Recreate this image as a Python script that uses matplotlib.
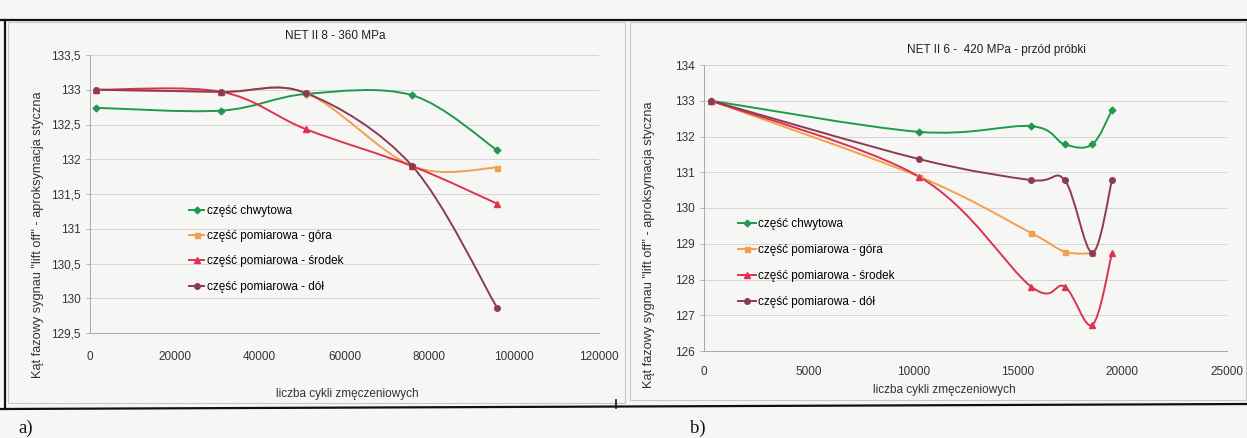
import numpy as np
import matplotlib
matplotlib.use("Agg")
import matplotlib.pyplot as plt
from matplotlib.path import Path
from matplotlib.patches import PathPatch, Rectangle
from matplotlib.lines import Line2D
from matplotlib.ticker import FixedLocator, FuncFormatter

plt.rcParams['font.family'] = ['Liberation Sans', 'DejaVu Sans']

# ---------------- data ----------------
series_labels = ["część chwytowa", "część pomiarowa - góra",
                 "część pomiarowa - środek", "część pomiarowa - dół"]

# chart a) NET II 8 - 360 MPa
x_a = [1500, 31000, 51000, 76000, 96000]
chwyt_a = [132.74, 132.70, 132.94, 132.92, 132.13]
gora_a = [133.00, 132.97, 132.95, 131.90, 131.88]
srodek_a = [133.00, 132.97, 132.43, 131.90, 131.36]
dol_a = [133.00, 132.97, 132.95, 131.90, 129.86]

# chart b) NET II 6 - 420 MPa - przód próbki
x_b = [340, 10270, 15640, 17240, 18560, 19500]
chwyt_b = [133.00, 132.13, 132.29, 131.78, 131.78, 132.74]
gora_b = [133.00, 130.88, 129.30, 128.78, 128.73]
srodek_b = [133.00, 130.88, 127.80, 127.80, 126.73, 128.73]
dol_b = [133.00, 131.37, 130.78, 130.78, 128.75, 130.77]

yticks_a = [129.5, 130, 130.5, 131, 131.5, 132, 132.5, 133, 133.5]
xticks_a = [0, 20000, 40000, 60000, 80000, 100000, 120000]
yticks_b = [126, 127, 128, 129, 130, 131, 132, 133, 134]
xticks_b = [0, 5000, 10000, 15000, 20000, 25000]

title_a = "NET II 8 - 360 MPa"
title_b = "NET II 6 -  420 MPa - przód próbki"
ylabel = 'Kąt fazowy sygnau "lift off" - aproksymacja styczna'
xlabel = "liczba cykli zmęczeniowych"

colors = ['#1f9a4c', '#f2a04e', '#dc3350', '#8c3b55']
markers = ['D', 's', '^', 'o']
msizes = [3.4, 3.6, 4.4, 4.0]

FS = 8.5

# ---------------- figure ----------------
W, H = 1247, 438
fig = plt.figure(figsize=(W / 100, H / 100), dpi=100)
fig.patch.set_facecolor('#f6f6f4')


def px_axes(x0, x1, y_top, y_bot):
    return fig.add_axes([x0 / W, 1 - y_bot / H, (x1 - x0) / W, (y_bot - y_top) / H])


def fx(x):
    return x / W


def fy(y):
    return 1 - y / H


def smooth_line(ax, x, y, color, lw=1.4):
    pts = np.column_stack([x, y]).astype(float)
    n = len(pts)
    verts = [pts[0]]
    codes = [Path.MOVETO]
    for i in range(n - 1):
        p0 = pts[i - 1] if i > 0 else pts[i]
        p1 = pts[i]
        p2 = pts[i + 1]
        p3 = pts[i + 2] if i + 2 < n else pts[i + 1]
        c1 = p1 + (p2 - p0) / 6.0
        c2 = p2 - (p3 - p1) / 6.0
        verts += [c1, c2, p2]
        codes += [Path.CURVE4] * 3
    ax.add_patch(PathPatch(Path(verts, codes), fill=False, edgecolor=color,
                           lw=lw, capstyle='round', joinstyle='round', zorder=3))


def style_axes(ax, xticks, yticks, yfmt):
    ax.set_facecolor('none')
    for s in ['top', 'right']:
        ax.spines[s].set_visible(False)
    for s in ['left', 'bottom']:
        ax.spines[s].set_color('#a8a8a8')
        ax.spines[s].set_linewidth(0.7)
    ax.xaxis.set_major_locator(FixedLocator(xticks))
    ax.yaxis.set_major_locator(FixedLocator(yticks))
    ax.yaxis.set_major_formatter(FuncFormatter(yfmt))
    ax.xaxis.set_major_formatter(FuncFormatter(lambda v, p: f"{int(v)}"))
    ax.tick_params(axis='both', labelsize=FS, colors='#a8a8a8',
                   labelcolor='#333333', length=3, width=0.6)
    ax.tick_params(axis='x', length=0)
    ax.grid(axis='y', color='#cfcfcf', lw=0.6)
    ax.set_axisbelow(True)


def fmt_a(v, p):
    s = f"{v:.1f}"
    if s.endswith(".0"):
        s = s[:-2]
    return s.replace(".", ",")


def fmt_b(v, p):
    return f"{int(round(v))}"


# chart a
ax_a = px_axes(90, 599, 55, 333)
ax_a.set_xlim(0, 120000)
ax_a.set_ylim(129.5, 133.5)
style_axes(ax_a, xticks_a, yticks_a, fmt_a)
ax_a.tick_params(axis='x', pad=13)
for ys, c, m, ms in zip([chwyt_a, gora_a, srodek_a, dol_a], colors, markers, msizes):
    smooth_line(ax_a, x_a, ys, c)
    ax_a.plot(x_a, ys, ls='none', marker=m, ms=ms, color=c, zorder=4)
ax_a.set_ylabel(ylabel, fontsize=9.2, color='#333333')
ax_a.yaxis.set_label_coords((44 - 90) / 509, 0.353)
ax_a.set_xlabel(xlabel, fontsize=FS, color='#333333')
ax_a.xaxis.set_label_coords((347 - 90) / 509, (333 - 388) / 278)

# chart b
ax_b = px_axes(704, 1227, 65, 351)
ax_b.set_xlim(0, 25000)
ax_b.set_ylim(126, 134)
style_axes(ax_b, xticks_b, yticks_b, fmt_b)
ax_b.tick_params(axis='x', pad=11)
for ys, c, m, ms in zip([chwyt_b, gora_b, srodek_b, dol_b], colors, markers, msizes):
    xs = x_b[:len(ys)]
    smooth_line(ax_b, xs, ys, c)
    ax_b.plot(xs, ys, ls='none', marker=m, ms=ms, color=c, zorder=4)
ax_b.set_ylabel(ylabel, fontsize=9.2, color='#333333')
ax_b.yaxis.set_label_coords((655 - 704) / 523, 0.37)
ax_b.set_xlabel(xlabel, fontsize=FS, color='#333333')
ax_b.xaxis.set_label_coords((944 - 704) / 523, (351 - 384) / 286)

# legends
handles = [Line2D([], [], color=c, marker=m, ms=ms, lw=1.4)
           for c, m, ms in zip(colors, markers, msizes)]
leg_a = fig.legend(handles, series_labels, loc='upper left',
                   bbox_to_anchor=(fx(189), fy(205)), frameon=False,
                   fontsize=FS, labelspacing=1.12, handlelength=1.3,
                   handletextpad=0.2, borderpad=0, borderaxespad=0)
leg_b = fig.legend(handles, series_labels, loc='upper left',
                   bbox_to_anchor=(fx(738), fy(218)), frameon=False,
                   fontsize=FS, labelspacing=1.2, handlelength=1.5,
                   handletextpad=0.2, borderpad=0, borderaxespad=0)

# titles
fig.text(fx(335), fy(36), title_a, fontsize=FS, ha='center', va='center', color='#222222')
fig.text(fx(996), fy(50), title_b, fontsize=FS, ha='center', va='center', color='#222222')

# chart-area borders (light) and page frame lines (dark)
fig.add_artist(Rectangle((fx(8), fy(403)), fx(625) - fx(8), fy(22) - fy(403),
                         transform=fig.transFigure, fill=False, ec='#c8c8c8', lw=0.8))
fig.add_artist(Rectangle((fx(630), fy(400)), fx(1246) - fx(630), fy(22) - fy(400),
                         transform=fig.transFigure, fill=False, ec='#c8c8c8', lw=0.8))
fig.add_artist(Line2D([0, 1], [fy(20), fy(20)], transform=fig.transFigure, color='#111111', lw=1.6))
fig.add_artist(Line2D([0, 1], [fy(409), fy(404)], transform=fig.transFigure, color='#111111', lw=1.6))
fig.add_artist(Line2D([fx(5), fx(5)], [fy(20), fy(409)], transform=fig.transFigure, color='#111111', lw=1.6))
fig.add_artist(Line2D([fx(616), fx(616)], [fy(400), fy(408)], transform=fig.transFigure, color='#111111', lw=1.2))

# panel labels
fig.text(fx(18), fy(428), "a)", fontsize=13.5, family='Liberation Serif', va='center', color='#111111')
fig.text(fx(690), fy(428), "b)", fontsize=13.5, family='Liberation Serif', va='center', color='#111111')

fig.savefig("out.png", dpi=100, facecolor=fig.get_facecolor())
